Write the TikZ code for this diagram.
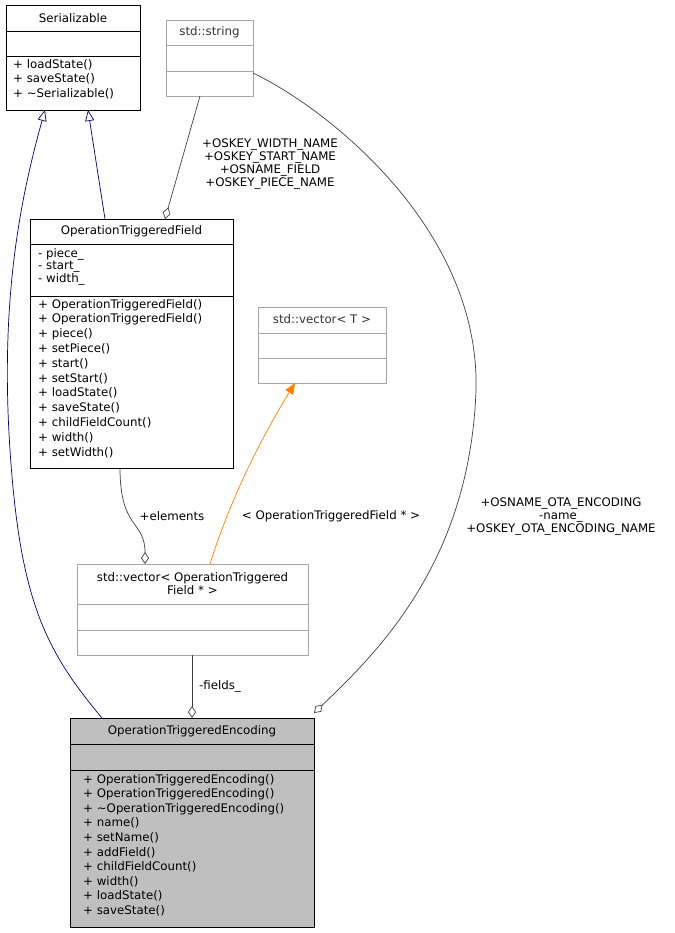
\documentclass[tikz,border=0pt]{standalone}
\usepackage{fontspec}
\setmainfont{DejaVu Sans}
\usetikzlibrary{arrows.meta}

\begin{document}
\begin{tikzpicture}[
		x=1pt, y=-1pt,
		font=\fontsize{11.8}{13}\selectfont,
		box/.style		={ draw=black, line width=0.8pt },
		stdbox/.style	={ draw=black!35, line width=0.8pt },
		txt/.style		={ inner sep=0pt, anchor=north west, align=left,
			font=\fontsize{11.8}{14.8}\selectfont },
		ttl/.style		={ inner sep=0pt, align=center },
		inherit/.style	={ draw=blue!40!black, line width=0.7pt,
			-{Triangle[open, length=11pt, width=9pt]}
		},
		assoc/.style	={ draw=black!75, line width=0.7pt,
			-{Diamond[open, length=12pt, width=8pt]}
		},
		templ/.style	={ draw=orange, line width=0.7pt,
			-{Triangle[length=11pt, width=9pt]}
		},
	]
	\useasboundingbox [fill=white] (0,0) rectangle (674,933);

	% declare class boxes
	\draw [box] (6,5) rectangle (140,110);
	\draw [box] (6,31) -- (140,31) (6,56) -- (140,56);
	\node (ser) [ttl] at (73,18) {Serializable};
	\node [txt] at (13,59) {+ loadState()\\+ saveState()\\+ \textasciitilde Serializable()};
	\coordinate (serL) at (45,110);
	\coordinate (serR) at (88,110);

	\draw [stdbox] (166,20) rectangle (253,96);
	\draw [stdbox] (166,45) -- (253,45) (166,71) -- (253,71);
	\node (str) [ttl, text=black!80] at (209.5,32) {std::string};
	\coordinate (strB) at (200,96);
	\coordinate (strR) at (253,73);

	\draw [box] (30,219) rectangle (233,468);
	\draw [box] (30,244) -- (233,244) (30,296) -- (233,296);
	\node (otf) [ttl] at (131.5,231) {OperationTriggeredField};
	\node [txt, font=\fontsize{11.8}{12.5}\selectfont] at (38,248) {- piece\_\\- start\_\\- width\_};
	\node [txt] at (38,299) {+ OperationTriggeredField()\\+ OperationTriggeredField()\\
		+ piece()\\+ setPiece()\\+ start()\\+ setStart()\\+ loadState()\\+ saveState()\\
		+ childFieldCount()\\+ width()\\+ setWidth()};
	\coordinate (otfT) at (105,219);
	\coordinate (otfT2) at (165,219);
	\coordinate (otfB) at (120,468);

	\draw [stdbox] (258,307) rectangle (386,383);
	\draw [stdbox] (258,333) -- (386,333) (258,358) -- (386,358);
	\node (vecT) [ttl, text=black!80] at (322,319) {std::vector< T >};
	\coordinate (vecTB) at (295,383);

	\draw [stdbox] (77,564) rectangle (308,655);
	\draw [stdbox] (77,604) -- (308,604) (77,630) -- (308,630);
	\node (vecF) [ttl] at (192.5,584) {std::vector< OperationTriggered\\Field * >};
	\coordinate (vecFT) at (210,564);
	\coordinate (vecFT2) at (145,564);
	\coordinate (vecFB) at (192,655);

	\draw [box, fill=black!25] (70,718) rectangle (314,927);
	\draw [box] (70,744) -- (314,744) (70,770) -- (314,770);
	\node (ote) [ttl] at (192,731) {OperationTriggeredEncoding};
	\node [txt, font=\fontsize{11.8}{14.6}\selectfont] at (83,774) {+ OperationTriggeredEncoding()\\+ OperationTriggeredEncoding()\\
		+ \textasciitilde OperationTriggeredEncoding()\\+ name()\\+ setName()\\+ addField()\\
		+ childFieldCount()\\+ width()\\+ loadState()\\+ saveState()};
	\coordinate (oteT) at (102,718);
	\coordinate (oteTM) at (192,718);
	\coordinate (oteR) at (314,713);

	% draw connectors
	\draw [inherit] (oteT) .. controls (45,650) and (20,600) .. (10,450)
		.. controls (0,300) and (20,200) .. (serL);
	\draw [inherit] (otfT) -- (serR);
	\draw [assoc] (strB) -- (otfT2);
	\draw [assoc] (strR) .. controls (330,110) and (480,230) .. (476,390)
		.. controls (470,560) and (380,650) .. (oteR);
	\draw [templ] (vecFT) .. controls (230,500) and (260,440) .. (vecTB);
	\draw [assoc] (otfB) .. controls (120,530) and (145,520) .. (vecFT2);
	\draw [assoc] (vecFB) -- (oteTM);

	% draw labels
	\node [ttl] at (270,164) {+OSKEY\_WIDTH\_NAME\\+OSKEY\_START\_NAME\\+OSNAME\_FIELD\\+OSKEY\_PIECE\_NAME};
	\node [ttl] at (172,516) {+elements};
	\node [ttl] at (331,516) {< OperationTriggeredField * >};
	\node [ttl] at (561,517) {+OSNAME\_OTA\_ENCODING\\-name\_\\+OSKEY\_OTA\_ENCODING\_NAME};
	\node [ttl] at (220,686) {-fields\_};
\end{tikzpicture}
\end{document}
